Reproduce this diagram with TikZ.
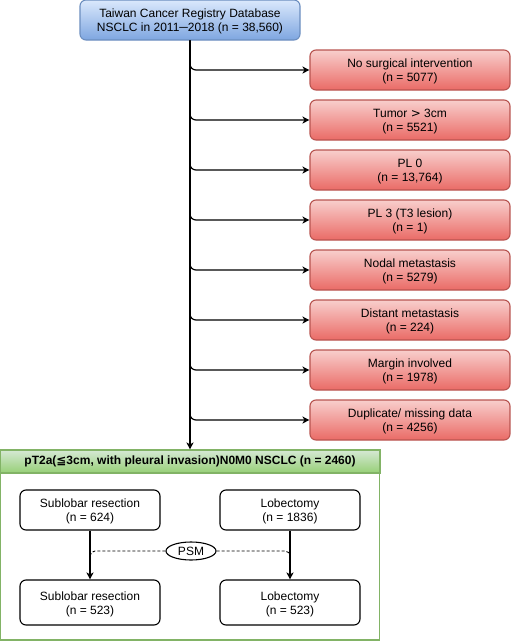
\documentclass[tikz,border=0pt]{standalone}
\usepackage{fontspec}
\setmainfont{Liberation Sans}
\newfontfamily\symfont{DejaVu Sans}
\usetikzlibrary{arrows.meta,shapes.geometric}
\definecolor{redtop}{HTML}{F8CECC}
\definecolor{redbot}{HTML}{EA6B66}
\definecolor{redline}{HTML}{B85450}
\definecolor{bluetop}{HTML}{DAE8FC}
\definecolor{bluebot}{HTML}{7EA6E0}
\definecolor{blueline}{HTML}{6C8EBF}
\definecolor{greentop}{HTML}{D5E8D4}
\definecolor{greenbot}{HTML}{97D077}
\definecolor{greenline}{HTML}{82B366}
\newcommand\tp{\rule{0pt}{12pt}}
\tikzset{
  base/.style={font=\fontsize{12}{14}\selectfont, align=center, inner sep=0pt, line width=1.1pt},
  bluebox/.style={base, draw=blueline, top color=bluetop, bottom color=bluebot, rounded corners=6pt, minimum width=220pt, minimum height=40pt},
  redbox/.style={base, draw=redline, top color=redtop, bottom color=redbot, rounded corners=6pt, minimum width=200pt, minimum height=40pt},
  whitebox/.style={base, draw=black, fill=white, rounded corners=6pt, minimum width=140pt, minimum height=40pt},
  headbox/.style={base, draw=greenline, top color=greentop, bottom color=greenbot, minimum width=380pt, minimum height=23pt, font=\fontsize{12}{14}\selectfont\bfseries},
  psmnode/.style={base, ellipse, draw=black, fill=white, minimum width=50pt, minimum height=18pt},
  arr/.style={-{Stealth[length=7pt,width=7pt,inset=2pt]}, line width=1.2pt},
  dashline/.style={line width=0.9pt, dash pattern=on 3pt off 2pt}
}
\begin{document}
\begin{tikzpicture}[x=1pt,y=-1pt]
\useasboundingbox (0,0) rectangle (511,641);
% green container
\draw[greenline, line width=1.2pt, fill=white] (0.6,450) rectangle (379.5,640);
\node[headbox] (head) at (190,461.5) {pT2a({\symfont ≦}3cm, with pleural invasion)N0M0 NSCLC (n = 2460)};
% top
\node[bluebox] (top) at (190,20) {\tp Taiwan Cancer Registry Database\\NSCLC in 2011─2018 (n = 38,560)};
% exclusions
\node[redbox] (r1) at (410,70) {\tp No surgical intervention\\(n = 5077)};
\node[redbox] (r2) at (410,120) {\tp Tumor {\symfont >} 3cm\\(n = 5521)};
\node[redbox] (r3) at (410,170) {\tp PL 0\\(n = 13,764)};
\node[redbox] (r4) at (410,220) {\tp PL 3 (T3 lesion)\\(n = 1)};
\node[redbox] (r5) at (410,270) {\tp Nodal metastasis\\(n = 5279)};
\node[redbox] (r6) at (410,320) {\tp Distant metastasis\\(n = 224)};
\node[redbox] (r7) at (410,370) {\tp Margin involved\\(n = 1978)};
\node[redbox] (r8) at (410,420) {\tp Duplicate/ missing data\\(n = 4256)};
\foreach \r in {r1,r2,r3,r4,r5,r6,r7,r8}{
  \draw[arr, rounded corners=6pt] (top.south) |- (\r.west);
}
\draw[arr] (top.south) -- (head.north);
% inner boxes
\node[whitebox] (s1) at (90,510) {\tp Sublobar resection\\(n = 624)};
\node[whitebox] (l1) at (290,510) {\tp Lobectomy\\(n = 1836)};
\node[whitebox, minimum height=45pt] (s2) at (90,602.5) {\tp Sublobar resection\\(n = 523)};
\node[whitebox, minimum height=45pt] (l2) at (290,602.5) {\tp Lobectomy\\(n = 523)};
\draw[arr] (s1.south) -- (s2.north);
\draw[arr] (l1.south) -- (l2.north);
\node[psmnode] (psm) at (191,551) {PSM};
\coordinate (cl) at (90,559);
\coordinate (cr) at (290,559);
\draw[dashline, rounded corners=5pt] (psm.west) -| (cl);
\draw[dashline, rounded corners=5pt] (psm.east) -| (cr);
\end{tikzpicture}
\end{document}
